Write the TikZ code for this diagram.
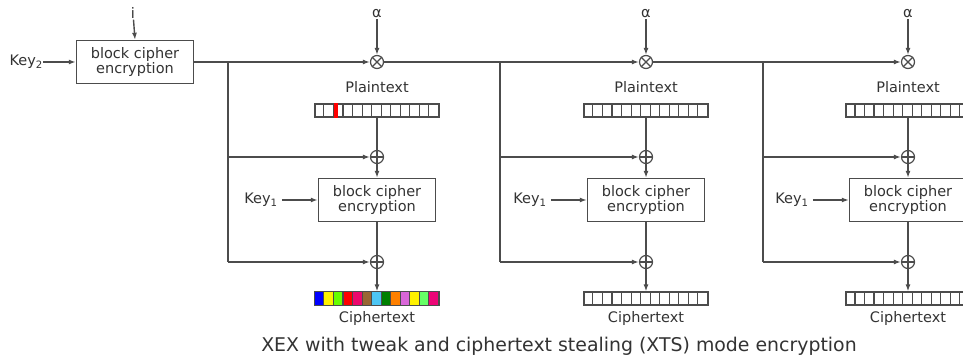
\documentclass[tikz,border=0pt]{standalone}
\usepackage{fontspec}
\setmainfont{DejaVu Sans}
\usetikzlibrary{arrows.meta}
\definecolor{linegray}{gray}{0.3}
\definecolor{textgray}{gray}{0.2}
\tikzset{
  cipherbox/.style={draw=linegray,line width=1.4pt,minimum width=117pt,minimum height=43pt,
    align=center,inner sep=0pt,text=textgray,font=\fontsize{14.5}{15}\selectfont},
  opcircle/.style={circle,draw=linegray,line width=1.2pt,minimum size=13pt,inner sep=0pt},
  register/.style={draw=linegray,line width=1.2pt,minimum width=124pt,minimum height=13pt,inner sep=0pt},
  lbl/.style={text=textgray,inner sep=1pt,font=\fontsize{14.5}{15}\selectfont},
  flow/.style={draw=linegray,line width=1.4pt,-{Latex[length=7pt,width=5pt]}},
  wire/.style={draw=linegray,line width=1.4pt}
}
\begin{document}
\begin{tikzpicture}[x=1pt,y=-1pt]
\clip (0,0) rectangle (963,358);
\fill[white] (0,0) rectangle (963,358);

% tweak encryption
\node[cipherbox] (tweakenc) at (135,62) {block cipher\\encryption};
\node[lbl] (idx) at (133,13) {i};
\node[lbl,anchor=east,inner sep=0pt] (key2) at (43,62) {Key\textsubscript{2}};
\draw[flow] (idx) -- (tweakenc.north);
\draw[flow] (key2.east) -- (tweakenc.west);

% the three blocks: column / branch
\foreach \n/\cx/\bx in {1/377/228,2/646/500,3/908/763}
{
  \node[lbl] (alpha\n) at (\cx,14) {α};
  \node[opcircle] (mul\n) at (\cx,62) {};
  \draw[line width=1.1pt,linegray] (mul\n.north east) -- (mul\n.south west)
    (mul\n.north west) -- (mul\n.south east);
  \draw[flow] (alpha\n) -- (mul\n.north);
  \node[lbl] (ptlabel\n) at (\cx,87) {Plaintext};
  \node[register] (pt\n) at (\cx,110.5) {};
  \node[opcircle] (xorin\n) at (\cx,157) {};
  \node[cipherbox] (enc\n) at (\cx,200) {block cipher\\encryption};
  \node[opcircle] (xorout\n) at (\cx,262) {};
  \node[register] (ct\n) at (\cx,298.5) {};
  \node[lbl] (ctlabel\n) at (\cx,318) {Ciphertext};
  \foreach \c in {xorin\n,xorout\n}
    \draw[line width=1.1pt,linegray] (\c.north) -- (\c.south) (\c.west) -- (\c.east);
  % Key1
  \coordinate (keystart\n) at ([xshift=-36pt]enc\n.west);
  \node[lbl,anchor=east] (key1\n) at ([xshift=-3pt]keystart\n) {Key\textsubscript{1}};
  \draw[flow] (keystart\n) -- (enc\n.west);
  % data path
  \draw[wire] (pt\n.south) -- (xorin\n.north);
  \draw[flow] (xorin\n.south) -- (enc\n.north);
  \draw[wire] (enc\n.south) -- (xorout\n.north);
  \draw[flow] (xorout\n.south) -- (ct\n.north);
  % tweak branch
  \coordinate (branch\n) at (\bx,62);
  \coordinate (branchin\n) at (\bx,157);
  \coordinate (branchout\n) at (\bx,262);
  \draw[wire] (branch\n) -- (branchout\n);
  \draw[flow] (branchin\n) -- (xorin\n.west);
  \draw[flow] (branchout\n) -- (xorout\n.west);
}

% register cells
\fill[red] ([xshift=19.1pt]pt1.south west) rectangle ([xshift=23.3pt]pt1.north west);
\foreach \n in {1,2,3}
  \foreach \k in {1,...,12}
  {
    \draw[linegray,line width=1.1pt] ([xshift=\k*124/13]pt\n.south west) -- ([xshift=\k*124/13]pt\n.north west);
  }
\foreach \k/\col in {0/blue,1/yellow,2/{green!60!yellow},3/red,4/{magenta!70!red},5/{brown!80!black},
  6/{cyan!70!white},7/{green!50!black},8/orange,9/{violet!50!magenta!60!white},10/yellow,11/{green!60!white},12/{magenta!80!red}}
{
  \fill[\col] ([xshift=\k*124/13]ct1.south west) rectangle ([xshift=(\k+1)*124/13]ct1.north west);
}
\foreach \n in {1,2,3}
{
  \foreach \k in {1,...,12}
    \draw[linegray,line width=1.1pt] ([xshift=\k*124/13]ct\n.south west) -- ([xshift=\k*124/13]ct\n.north west);
  \draw[linegray,line width=1.2pt] (ct\n.south west) rectangle (ct\n.north east);
}

% tweak chain
\draw[wire] (tweakenc.east) -- (branch1);
\draw[flow] (branch1) -- (mul1.west);
\draw[wire] (mul1.east) -- (branch2);
\draw[flow] (branch2) -- (mul2.west);
\draw[wire] (mul2.east) -- (branch3);
\draw[flow] (branch3) -- (mul3.west);

% caption
\node[text=textgray,font=\fontsize{18.9}{20}\selectfont] (caption) at (559,346)
  {XEX with tweak and ciphertext stealing (XTS) mode encryption};
\end{tikzpicture}
\end{document}
